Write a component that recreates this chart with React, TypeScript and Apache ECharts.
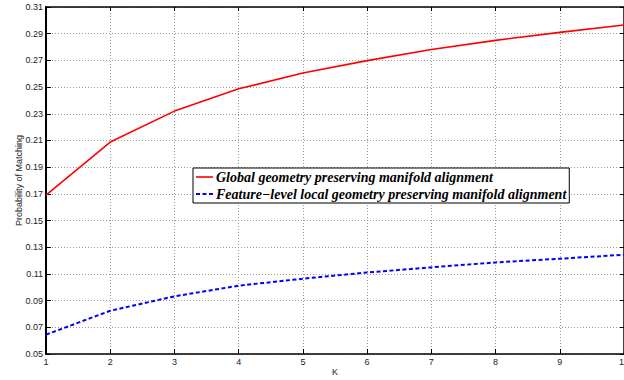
import React, { useEffect, useRef } from "react";
import * as echarts from "echarts";

const kValues = [1, 2, 3, 4, 5, 6, 7, 8, 9, 10];
const globalValues = [0.169, 0.2088, 0.232, 0.2487, 0.2605, 0.2698, 0.2782, 0.285, 0.291, 0.2965];
const featureValues = [0.0645, 0.0824, 0.0932, 0.1012, 0.1064, 0.1111, 0.1149, 0.1186, 0.1214, 0.1244];
const seriesNames = [
  "Global geometry preserving manifold alignment",
  "Feature\u2212level local geometry preserving manifold alignment",
];
const yLabelName = "Probability of Matching";
const xLabelName = "K";

const solidIcon = "path://M0,0h17v1.6h-17z";
const dashedIcon = "path://M0,0h4v2h-4z M6.5,0h4v2h-4z M13,0h4v2h-4z";

export default function App() {
  const ref = useRef<HTMLDivElement>(null);
  useEffect(() => {
    if (!ref.current) return;
    const chart = echarts.init(ref.current, null, { renderer: "svg" });
    const sans = "Liberation Sans";
    const gridLine = { show: true, lineStyle: { type: [1, 2], color: "#9a9a9a", width: 1 } };
    chart.setOption({
      animation: false,
      backgroundColor: "#ffffff",
      grid: { left: 46, right: 0, top: 7, bottom: 26, containLabel: false, outerBoundsMode: "none" },
      legend: {
        show: true,
        orient: "vertical",
        left: 193,
        top: 168,
        padding: [2, 3, 2, 3],
        itemGap: 3,
        itemWidth: 17,
        itemHeight: 2,
        borderColor: "#000",
        borderWidth: 1,
        backgroundColor: "#fff",
        textStyle: {
          fontFamily: "Liberation Serif",
          fontStyle: "italic",
          fontWeight: "bold",
          fontSize: 14,
          color: "#000",
          padding: [0, 0, 0, -2],
        },
        data: [
          { name: seriesNames[0], icon: solidIcon, itemStyle: { color: "#ff0000" } },
          { name: seriesNames[1], icon: dashedIcon, itemStyle: { color: "#0000ff" } },
        ],
      },
      xAxis: [
        {
          type: "value",
          min: 1,
          max: 10,
          interval: 1,
          position: "bottom",
          name: xLabelName,
          nameLocation: "middle",
          nameGap: 13,
          nameMoveOverlap: false,
          nameTextStyle: { fontFamily: sans, fontSize: 9, color: "#222" },
          axisLine: { show: true, lineStyle: { color: "#000", width: 1.5 } },
          axisTick: { show: true, inside: true, length: 5, lineStyle: { color: "#000" } },
          axisLabel: { fontFamily: sans, fontSize: 9, color: "#222", margin: 3 },
          splitLine: gridLine,
        },
        {
          type: "value",
          min: 1,
          max: 10,
          interval: 1,
          position: "top",
          axisLine: { show: true, lineStyle: { color: "#000", width: 1.5 } },
          axisTick: { show: true, inside: true, length: 4, lineStyle: { color: "#000" } },
          axisLabel: { show: false },
          splitLine: { show: false },
        },
      ],
      yAxis: [
        {
          type: "value",
          min: 0.05,
          max: 0.31,
          interval: 0.02,
          position: "left",
          name: yLabelName,
          nameLocation: "middle",
          nameGap: 23,
          nameMoveOverlap: false,
          nameTextStyle: { fontFamily: sans, fontSize: 9, color: "#222" },
          axisLine: { show: true, lineStyle: { color: "#000", width: 2 } },
          axisTick: { show: true, inside: true, length: 5, lineStyle: { color: "#000" } },
          axisLabel: {
            fontFamily: sans,
            fontSize: 9,
            color: "#222",
            margin: 3,
            formatter: (v: number) => v.toFixed(2),
          },
          splitLine: gridLine,
        },
        {
          type: "value",
          min: 0.05,
          max: 0.31,
          interval: 0.02,
          position: "right",
          axisLine: { show: true, lineStyle: { color: "#000", width: 1.5 } },
          axisTick: { show: true, inside: true, length: 4, lineStyle: { color: "#000" } },
          axisLabel: { show: false },
          splitLine: { show: false },
        },
      ],
      series: [
        {
          name: seriesNames[0],
          type: "line",
          xAxisIndex: 0,
          yAxisIndex: 0,
          symbol: "none",
          data: kValues.map((k, i) => [k, globalValues[i]]),
          lineStyle: { color: "#ff0000", width: 1.6 },
          itemStyle: { color: "#ff0000" },
        },
        {
          name: seriesNames[1],
          type: "line",
          xAxisIndex: 0,
          yAxisIndex: 0,
          symbol: "none",
          data: kValues.map((k, i) => [k, featureValues[i]]),
          lineStyle: { color: "#0000ff", width: 2, type: [4, 2.5] },
          itemStyle: { color: "#0000ff" },
        },
      ],
    });
    return () => chart.dispose();
  }, []);
  return (
    <div
      ref={ref}
      style={{ position: "fixed", left: 0, top: 0, width: 624, height: 380, background: "#fff" }}
    />
  );
}
